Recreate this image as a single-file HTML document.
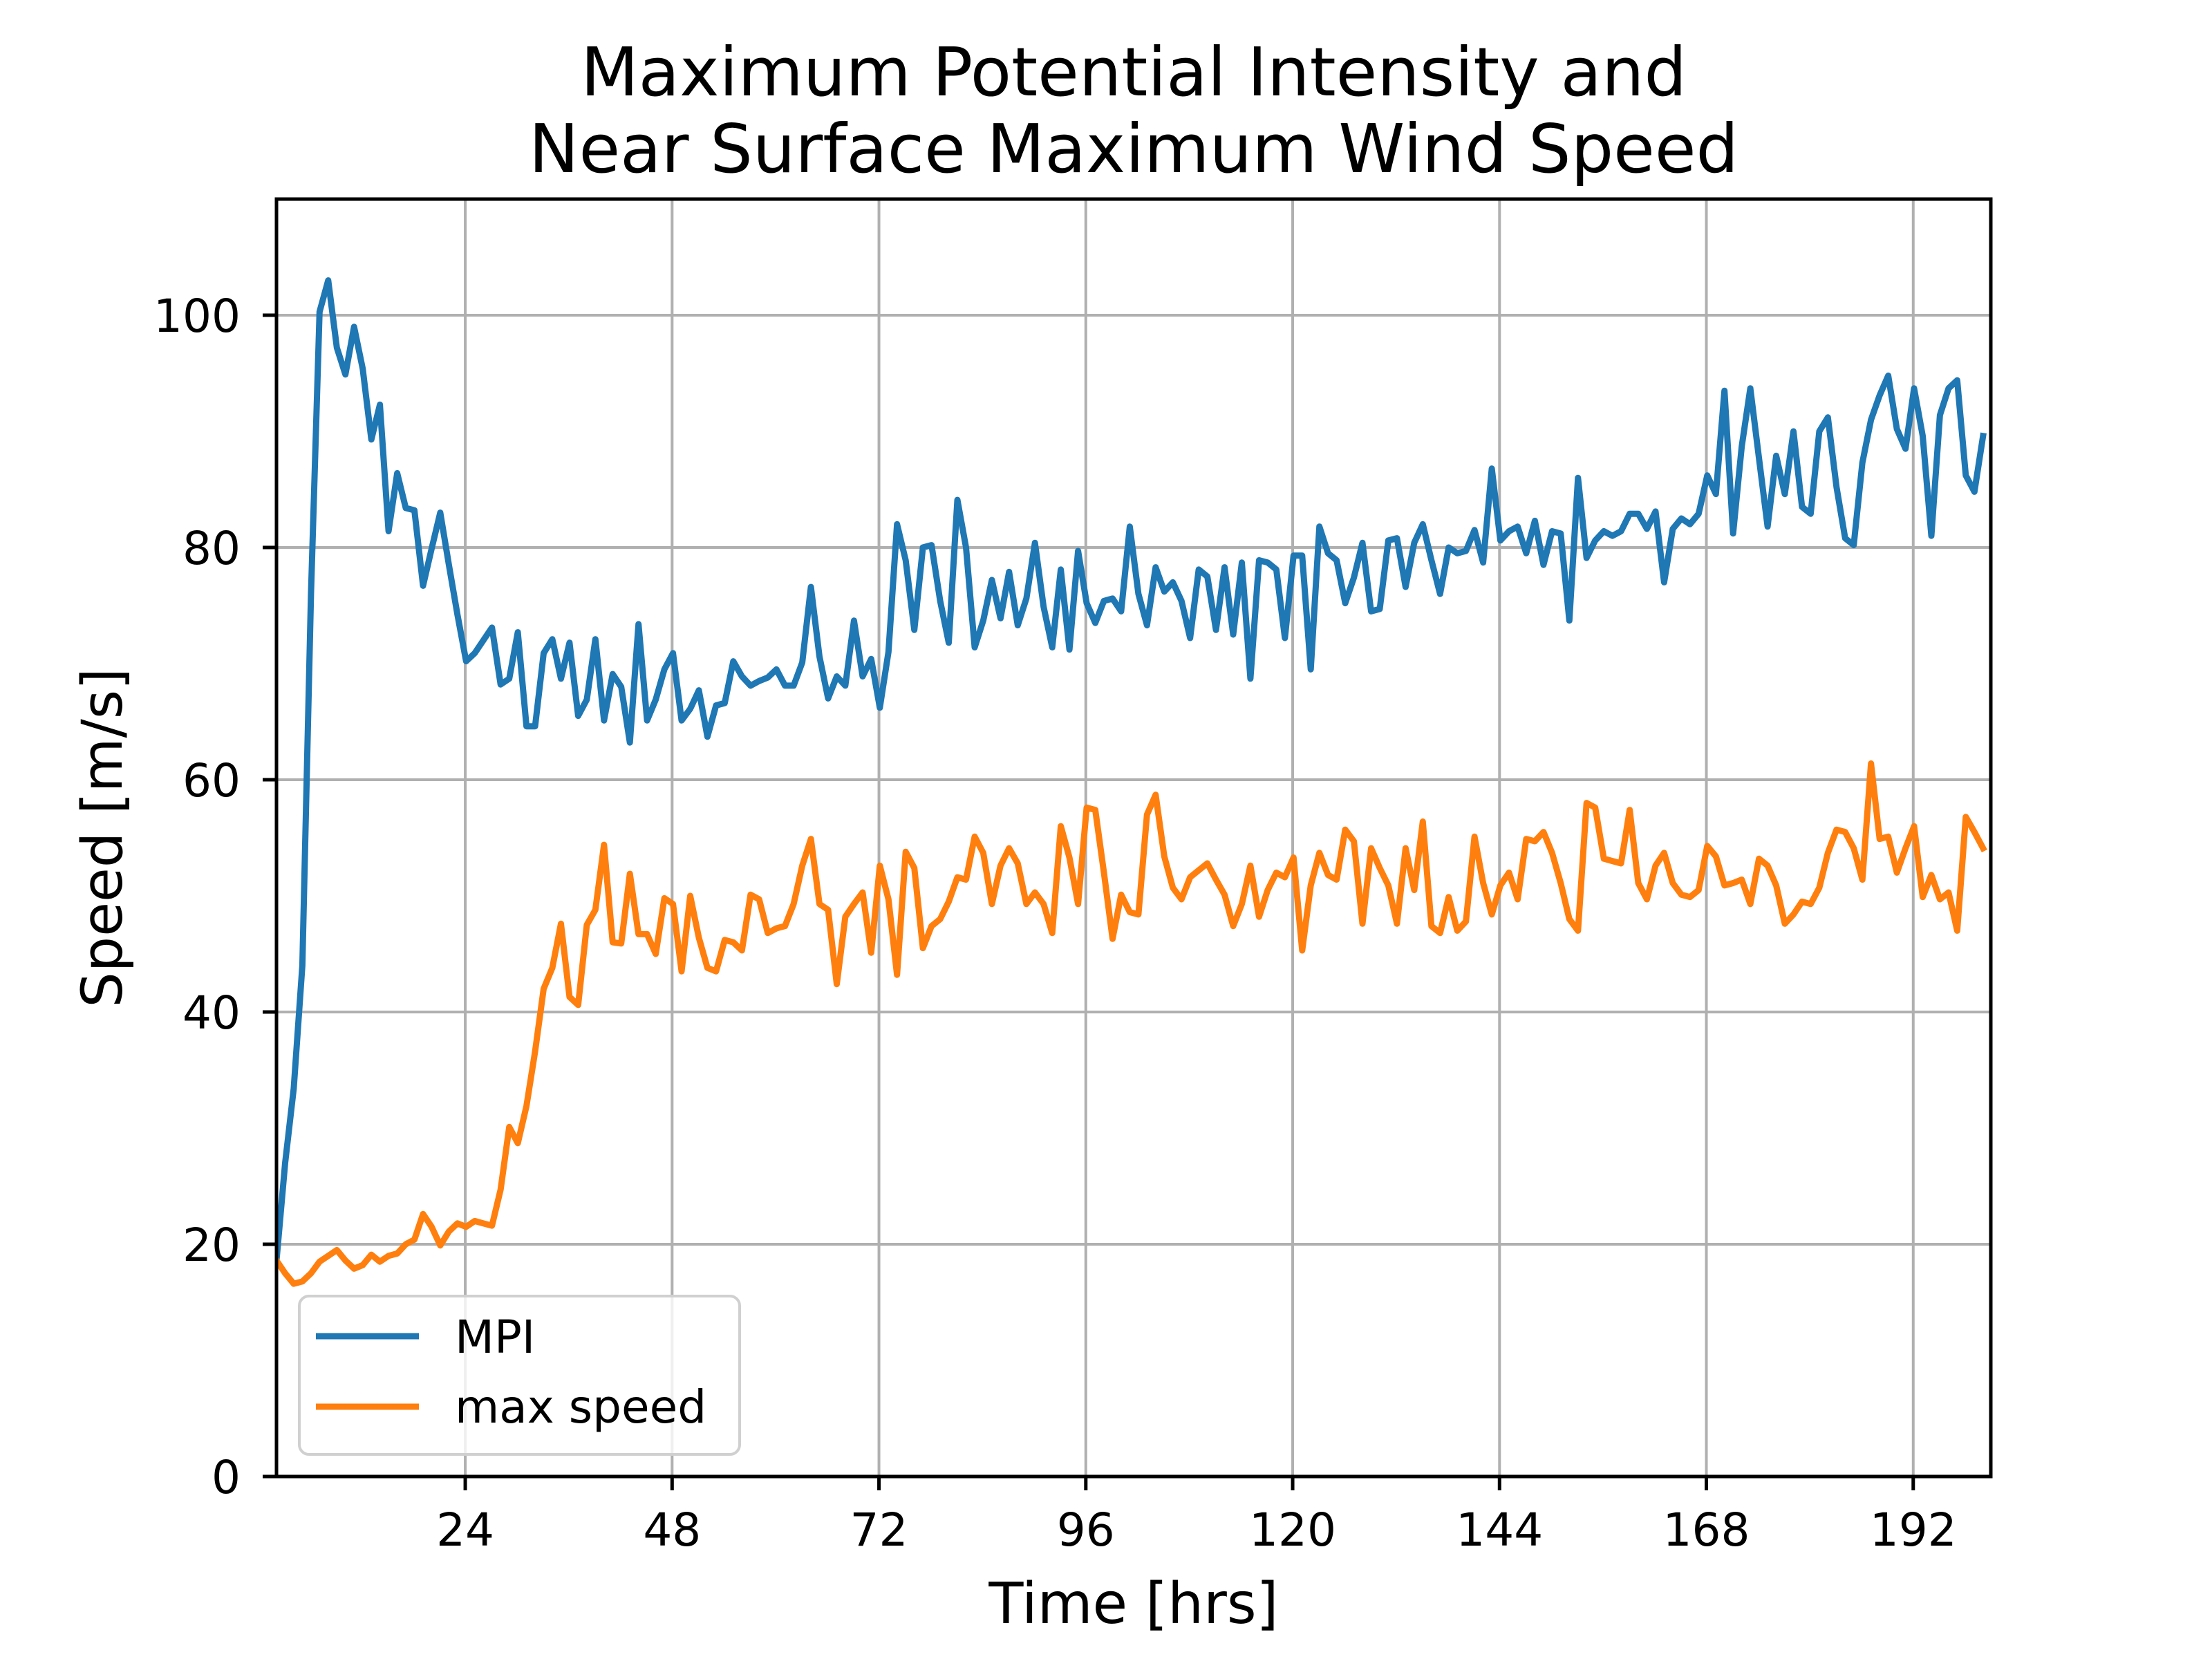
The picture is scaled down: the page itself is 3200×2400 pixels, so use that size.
<!DOCTYPE html>
<html><head><meta charset="utf-8"><title>Maximum Potential Intensity and Near Surface Maximum Wind Speed</title>
<style>html,body{margin:0;padding:0;background:#fff;}svg{display:block;}text{font-family:"DejaVu Sans","Liberation Sans",sans-serif;fill:#000;}</style>
</head><body>
<svg id="chart" xmlns="http://www.w3.org/2000/svg" width="3200" height="2400" viewBox="0 0 3200 2400">
<rect x="0" y="0" width="3200" height="2400" fill="#fff"/>
<text x="1640" y="138" font-size="97" text-anchor="middle">Maximum Potential Intensity and </text>
<text x="1640" y="249" font-size="97" text-anchor="middle">Near Surface Maximum Wind Speed</text>
<g id="grid"></g>
<g id="series"></g>
<g id="axes"></g>
<text x="1640" y="2348" font-size="82" text-anchor="middle">Time [hrs]</text>
<text x="0" y="0" font-size="81" text-anchor="middle" transform="translate(176,1212) rotate(-90)">Speed [m/s]</text>
<g id="legend">
  <rect x="433" y="1875" width="637" height="229" rx="14" ry="14" fill="#fff" fill-opacity="0.8" stroke="#d0d0d0" stroke-width="4"/>
  <line x1="457" y1="1933" x2="606" y2="1933" stroke="#1f77b4" stroke-width="9"/>
  <text x="658" y="1957" font-size="66">MPI</text>
  <line x1="457" y1="2035" x2="606" y2="2035" stroke="#ff7f0e" stroke-width="9"/>
  <text x="658" y="2058" font-size="66">max speed</text>
</g>
</svg>
<script>
const startHour = 2.1;
const mpiValues = [18.6,27,33.4,44,76,100.3,103.0,97.2,94.9,99.0,95.4,89.3,92.3,81.4,86.4,83.4,83.2,76.7,79.9,83.0,78.5,74.2,70.2,70.9,72,73.1,68.2,68.7,72.7,64.6,64.6,70.9,72.1,68.7,71.8,65.5,66.9,72.1,65.1,69.1,68.0,63.2,73.4,65.1,66.9,69.5,70.9,65.1,66.1,67.7,63.7,66.4,66.6,70.2,
68.9,68.1,68.5,68.8,69.5,68.1,68.1,70.1,76.6,70.6,67.0,68.9,68.1,73.7,68.9,70.4,66.2,71.0,82.0,78.9,72.9,80,80.2,75.4,
71.8,84.1,80,71.4,73.7,77.2,73.9,77.9,73.3,75.6,80.4,74.9,71.4,78.1,71.2,79.7,75.2,73.5,75.4,75.6,74.5,81.8,76.0,73.3,
78.3,76.2,77.0,75.4,72.2,78.1,77.5,72.9,78.3,72.5,78.7,68.7,78.9,78.7,78.1,72.2,79.3,79.3,69.5,81.8,79.5,78.9,75.2,77.4,80.4,
74.5,74.7,80.6,80.8,76.6,80.4,82.0,78.9,76.0,80.0,79.5,79.7,81.5,78.7,86.8,80.6,81.4,81.8,79.5,82.3,78.5,81.4,81.2,73.7,
86.0,79.1,80.6,81.4,81.0,81.4,82.9,82.9,81.6,83.1,77.0,81.6,82.5,82.0,82.9,86.2,84.6,93.5,81.2,88.7,93.7,87.7,81.8,87.9,
84.6,90.0,83.5,82.9,90.0,91.2,85.2,80.8,80.2,87.3,91.0,93.1,94.8,90.2,88.5,93.7,89.6,81.0,91.4,93.7,94.4,86.2,84.8,89.6];
const maxSpeedValues = [18.6,17.5,16.6,16.8,17.5,18.5,19.0,19.5,18.6,17.9,18.2,19.1,18.5,19.0,19.2,20.0,20.4,22.6,21.5,19.9,21.1,21.8,21.5,22.0,21.8,21.6,24.7,30.1,28.7,31.9,36.6,42,43.8,47.6,41.3,40.6,47.5,48.8,54.4,46,45.9,51.9,46.7,46.7,45,49.8,49.3,43.5,50,46.4,43.8,43.5,46.2,46,
45.3,50.1,49.7,46.8,47.2,47.4,49.3,52.6,54.9,49.3,48.8,42.4,48.2,49.3,50.3,45.1,52.6,49.7,43.2,53.8,52.4,45.5,47.4,48.0,
49.5,51.6,51.4,55.1,53.7,49.3,52.6,54.1,52.8,49.3,50.3,49.3,46.8,56.0,53.3,49.3,57.6,57.4,52.0,46.3,50.1,48.6,48.4,57.0,
58.7,53.4,50.7,49.7,51.6,52.2,52.8,51.4,50.1,47.4,49.3,52.6,48.2,50.5,52.0,51.6,53.3,45.3,50.9,53.7,51.8,51.4,55.7,54.7,47.6,
54.1,52.4,50.9,47.6,54.1,50.5,56.4,47.4,46.8,49.9,47.0,47.8,55.1,51.1,48.4,50.9,52.0,49.7,54.9,54.7,55.5,53.7,51.1,48.0,
47.0,58.0,57.6,53.2,53.0,52.8,57.4,51.1,49.7,52.6,53.7,51.1,50.1,49.9,50.5,54.3,53.4,50.9,51.1,51.4,49.3,53.2,52.6,50.9,
47.6,48.4,49.5,49.3,50.7,53.7,55.7,55.5,54.1,51.4,61.4,54.9,55.1,52.0,54.1,56.0,49.9,51.8,49.7,50.3,47.0,56.8,55.5,54.1];
const xTickValues = [24,48,72,96,120,144,168,192];
const yTickValues = [0,20,40,60,80,100];

const NS = "http://www.w3.org/2000/svg";
const AX = {l:400, r:2880, t:288, b:2136};
const XMIN = 2.1, XMAX = 201.0, YMIN = 0, YMAX = 110;
function xScale(v){ return AX.l + (v - XMIN) / (XMAX - XMIN) * (AX.r - AX.l); }
function yScale(v){ return AX.b - (v - YMIN) / (YMAX - YMIN) * (AX.b - AX.t); }
function mk(tag, attrs, parent){ const e = document.createElementNS(NS, tag); for (const k in attrs) e.setAttribute(k, attrs[k]); parent.appendChild(e); return e; }

const grid = document.getElementById('grid');
const axes = document.getElementById('axes');
const series = document.getElementById('series');

xTickValues.forEach(function(v){
  const x = xScale(v);
  const g = mk('line', {x1:x, y1:AX.t, x2:x, y2:AX.b, stroke:'#b0b0b0', 'stroke-width':4}, grid);
  
  
  const t = mk('line', {x1:x, y1:AX.b, x2:x, y2:AX.b + 20, stroke:'#000', 'stroke-width':5}, axes);
  
  
  const l = mk('text', {x:x, y:2236, 'font-size':66, 'text-anchor':'middle'}, axes);
  l.textContent = String(v);
  
  
});
yTickValues.forEach(function(v){
  const y = yScale(v);
  const g = mk('line', {x1:AX.l, y1:y, x2:AX.r, y2:y, stroke:'#b0b0b0', 'stroke-width':4}, grid);
  
  
  const t = mk('line', {x1:AX.l - 20, y1:y, x2:AX.l, y2:y, stroke:'#000', 'stroke-width':5}, axes);
  
  
  const l = mk('text', {x:AX.l - 52, y:y + 24, 'font-size':66, 'text-anchor':'end'}, axes);
  l.textContent = String(v);
  
  
});

const defs = mk('defs', {}, series);
const cp = mk('clipPath', {id:'plotclip'}, defs);
mk('rect', {x:AX.l, y:AX.t, width:AX.r - AX.l, height:AX.b - AX.t}, cp);

function drawSeries(values, color, name){
  const pts = values.map(function(v, i){ return xScale(startHour + i).toFixed(1) + ',' + yScale(v).toFixed(1); }).join(' ');
  const p = mk('polyline', {points:pts, fill:'none', stroke:color, 'stroke-width':9, 'stroke-linejoin':'round', 'stroke-linecap':'square', 'clip-path':'url(#plotclip)'}, series);
  
  
}
drawSeries(mpiValues, '#1f77b4', 'mpi-line');
drawSeries(maxSpeedValues, '#ff7f0e', 'max-speed-line');

const frame = mk('rect', {x:AX.l, y:AX.t, width:AX.r - AX.l, height:AX.b - AX.t, fill:'none', stroke:'#000', 'stroke-width':5}, axes);


</script>
</body></html>
